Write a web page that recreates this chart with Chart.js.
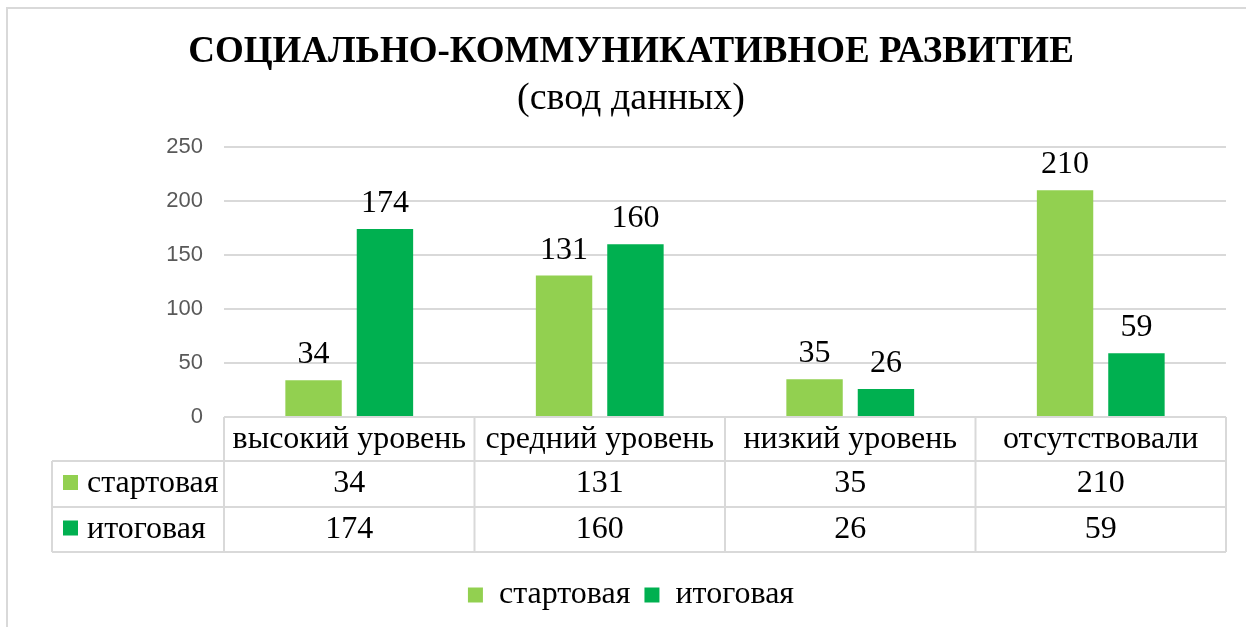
<!DOCTYPE html>
<html>
<head>
<meta charset="utf-8">
<script src="https://cdn.jsdelivr.net/npm/chart.js@4/dist/chart.umd.min.js"></script>
<style>
  html, body { margin: 0; padding: 0; background: #fff; }
  #wrap { position: absolute; left: 0; top: 0; width: 1246px; height: 627px; }
</style>
</head>
<body>
<div id="wrap"><canvas id="c" width="1246" height="627"></canvas></div>
<script>
const titleText = 'СОЦИАЛЬНО-КОММУНИКАТИВНОЕ РАЗВИТИЕ';
const subtitleText = '(свод данных)';
const categories = ['высокий уровень', 'средний уровень', 'низкий уровень', 'отсутствовали'];
const seriesNames = ['стартовая', 'итоговая'];
const startValues = [34, 131, 35, 210];
const finalValues = [174, 160, 26, 59];
const yTicks = [0, 50, 100, 150, 200, 250];

const SERIF = "'Liberation Serif', 'Times New Roman', serif";
const SANS = "'Liberation Sans', Arial, sans-serif";
const COLORS = ['#92D050', '#00B050'];
const LINE = '#d9d9d9';

const framePlugin = {
  id: 'frame',
  beforeDraw(chart) {
    const ctx = chart.ctx;
    ctx.save();
    ctx.strokeStyle = LINE;
    ctx.lineWidth = 2;
    ctx.beginPath();
    ctx.moveTo(7, 627); ctx.lineTo(7, 8); ctx.lineTo(1246, 8);
    ctx.stroke();
    ctx.restore();
  }
};

const valueLabels = {
  id: 'valueLabels',
  afterDatasetsDraw(chart) {
    const ctx = chart.ctx;
    ctx.save();
    ctx.font = '32px ' + SERIF;
    ctx.fillStyle = '#000';
    ctx.textAlign = 'center';
    ctx.textBaseline = 'alphabetic';
    chart.data.datasets.forEach((ds, di) => {
      chart.getDatasetMeta(di).data.forEach((bar, i) => {
        ctx.fillText(String(ds.data[i]), bar.x, bar.y - 17);
      });
    });
    ctx.restore();
  }
};

const dataTable = {
  id: 'dataTable',
  afterDraw(chart) {
    const ctx = chart.ctx;
    const x = chart.scales.x;
    const area = chart.chartArea;
    const top = area.bottom;
    const r1 = top + 44, r2 = top + 90, r3 = top + 135;
    const tableLeft = 52;
    const n = categories.length;
    const w = (area.right - area.left) / n;
    const bounds = [];
    for (let i = 0; i <= n; i++) bounds.push(area.left + i * w);
    ctx.save();
    ctx.strokeStyle = LINE;
    ctx.lineWidth = 2;
    ctx.beginPath();
    bounds.forEach(b => { ctx.moveTo(b, top); ctx.lineTo(b, r3); });
    ctx.moveTo(area.left, top); ctx.lineTo(area.right, top);
    [r1, r2, r3].forEach(y => { ctx.moveTo(tableLeft, y); ctx.lineTo(area.right, y); });
    ctx.moveTo(tableLeft, r1); ctx.lineTo(tableLeft, r3);
    ctx.stroke();

    const rows = [startValues, finalValues];
    const rowTops = [r1, r2];
    const rowBots = [r2, r3];
    ctx.font = '32px ' + SERIF;
    ctx.textBaseline = 'middle';
    rows.forEach((vals, ri) => {
      const cy = (rowTops[ri] + rowBots[ri]) / 2;
      ctx.fillStyle = COLORS[ri];
      ctx.fillRect(tableLeft + 11, cy - 9, 15, 15);
      ctx.fillStyle = '#000';
      ctx.textAlign = 'left';
      ctx.fillText(seriesNames[ri], tableLeft + 35, cy);
      ctx.textAlign = 'center';
      vals.forEach((v, i) => {
        ctx.fillText(String(v), x.getPixelForValue(i), cy);
      });
    });
    ctx.restore();
  }
};

new Chart(document.getElementById('c'), {
  type: 'bar',
  data: {
    labels: categories,
    datasets: [
      { label: seriesNames[0], data: startValues, backgroundColor: COLORS[0], categoryPercentage: 0.57, barPercentage: 0.79 },
      { label: seriesNames[1], data: finalValues, backgroundColor: COLORS[1], categoryPercentage: 0.57, barPercentage: 0.79 }
    ]
  },
  options: {
    responsive: false,
    animation: false,
    layout: { padding: { left: 36, right: 20, top: 0, bottom: 6 } },
    scales: {
      x: {
        grid: { display: false, drawTicks: false },
        border: { display: false },
        ticks: { font: { family: SERIF, size: 32 }, color: '#000', padding: 3, autoSkip: false, maxRotation: 0 },
        afterFit(scale) { scale.height = 148; }
      },
      y: {
        min: 0, max: 250,
        afterBuildTicks(scale) { scale.ticks = yTicks.map(v => ({ value: v })); },
        grid: { color: LINE, lineWidth: 2, drawTicks: false },
        border: { display: false },
        ticks: { font: { family: SANS, size: 22 }, color: '#595959', padding: 21 },
        afterFit(scale) { scale.width = 188; }
      }
    },
    plugins: {
      title: {
        display: true, text: titleText, color: '#000',
        font: { family: SERIF, size: 37, weight: 'bold' },
        padding: { top: 30, bottom: 0 }
      },
      subtitle: {
        display: true, text: subtitleText, color: '#000',
        font: { family: SERIF, size: 38 },
        padding: { top: 2, bottom: 25 }
      },
      legend: {
        position: 'bottom',
        labels: { font: { family: SERIF, size: 32 }, color: '#000', boxWidth: 15, boxHeight: 15, padding: 14 }
      },
      tooltip: { enabled: false }
    }
  },
  plugins: [framePlugin, valueLabels, dataTable]
});
</script>
</body>
</html>
